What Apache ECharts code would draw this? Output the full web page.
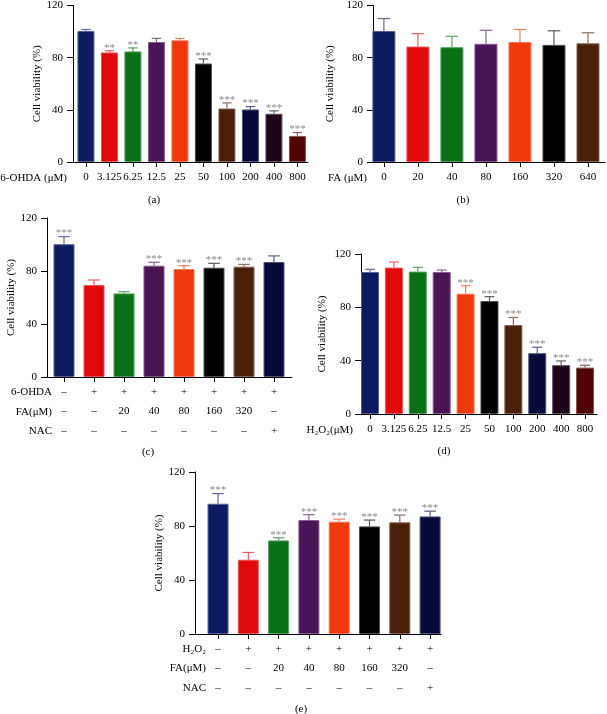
<!DOCTYPE html>
<html><head><meta charset="utf-8">
<script src="https://cdn.jsdelivr.net/npm/echarts@6/dist/echarts.min.js"></script>
<style>html,body{margin:0;padding:0;background:#fff}#c{width:607px;height:714px}</style>
</head><body><div id="c"></div>
<script>
const FONT = '"Liberation Serif","Times New Roman",serif';
const navy='#0e1a5f', red='#e0090b', green='#0a7016', purple='#4a1457', orange='#ee3a0b',
      black='#000000', brown='#4b200b', dnavy='#070a3b', plum='#1f0519', dred='#4f0506';

// (a) 6-OHDA dose
const aLabels = ['0','3.125','6.25','12.5','25','50','100','200','400','800'];
const aValues = [100.4,84,84.8,92,93.3,75.5,41,40.3,37,20];
const aErrors = [1.2,1.3,2.7,2.8,1.5,3.5,4.3,2.2,2.2,2.6];
const aSig = ['','**','**','','','***','***','***','***','***'];
const aColors = [navy,red,green,purple,orange,black,brown,dnavy,plum,dred];

// (b) FA dose
const bLabels = ['0','20','40','80','160','320','640'];
const bValues = [100.4,88.5,88,90.6,92,89.8,91];
const bErrors = [9.6,9.9,8.4,10.4,9.6,10.8,8.1];
const bSig = ['','','','','','',''];
const bColors = [navy,red,green,purple,orange,black,brown];

// (c) 6-OHDA + FA / NAC
const cOhda = ['–','+','+','+','+','+','+','+'];
const cFa   = ['–','–','20','40','80','160','320','–'];
const cNac  = ['–','–','–','–','–','–','–','+'];
const cValues = [100.2,69.4,63.1,84,81.5,82.5,83.3,86.8];
const cErrors = [5.8,3.8,1.3,2.6,2.5,3.3,1.7,4.6];
const cSig = ['***','','','***','***','***','***',''];
const cColors = [navy,red,green,purple,orange,black,brown,dnavy];

// (d) H2O2 dose
const dLabels = ['0','3.125','6.25','12.5','25','50','100','200','400','800'];
const dValues = [106.5,109.8,106.8,106.5,90.2,84.7,66.7,45.6,36.6,34.8];
const dErrors = [2,4.2,3.2,1.5,6,3.3,5.7,4.5,3.2,1.8];
const dSig = ['','','','','***','***','***','***','***','***'];
const dColors = [navy,red,green,purple,orange,black,brown,dnavy,plum,dred];

// (e) H2O2 + FA / NAC
const eH2o2 = ['–','+','+','+','+','+','+','+'];
const eFa   = ['–','–','20','40','80','160','320','–'];
const eNac  = ['–','–','–','–','–','–','–','+'];
const eValues = [96.5,55,69.3,84.4,83.2,79.7,82.7,87.1];
const eErrors = [7.5,5.4,2,4,1.9,4.7,5.4,3.9];
const eSig = ['***','','***','***','***','***','***','***'];
const eColors = [navy,red,green,purple,orange,black,brown,dnavy];

function join3(a,b,c){ return a.map((v,i)=>v+'\n'+b[i]+'\n'+c[i]); }

const panels = [
  {labels:aLabels, values:aValues, errors:aErrors, sig:aSig, colors:aColors,
   grid:{left:73,top:3,width:235,height:159}, xmin:-0.55, xmax:9.45, barW:17, nameGap:30, lh:13, margin:9},
  {labels:bLabels, values:bValues, errors:bErrors, sig:bSig, colors:bColors,
   grid:{left:373,top:3,width:232,height:159}, xmin:-0.32, xmax:6.5, barW:23, nameGap:37, lh:13, margin:9},
  {labels:join3(cOhda,cFa,cNac), values:cValues, errors:cErrors, sig:cSig, colors:cColors,
   grid:{left:47,top:218,width:245,height:159}, xmin:-0.567, xmax:7.6, barW:21, nameGap:30, lh:19.5, margin:5},
  {labels:dLabels, values:dValues, errors:dErrors, sig:dSig, colors:dColors,
   grid:{left:361,top:254,width:236,height:160}, xmin:-0.377, xmax:9.5, barW:18, nameGap:33, lh:13, margin:9},
  {labels:join3(eH2o2,eFa,eNac), values:eValues, errors:eErrors, sig:eSig, colors:eColors,
   grid:{left:195,top:472,width:246,height:162}, xmin:-0.76, xmax:7.36, barW:21, nameGap:27, lh:19.5, margin:5}
];

function errRender(p){
  return function(params, api){
    const i = api.value(0), v = api.value(1), e = api.value(2);
    const p0 = api.coord([i, v]), p1 = api.coord([i, v+e]);
    const col = echarts.color.lift(p.colors[params.dataIndex], 0.35);
    const cap = p.barW*0.55;
    const ch = [
      {type:'line', shape:{x1:p0[0],y1:p0[1],x2:p1[0],y2:p1[1]}, style:{stroke:col,lineWidth:1.2}},
      {type:'line', shape:{x1:p1[0]-cap/2,y1:p1[1],x2:p1[0]+cap/2,y2:p1[1]}, style:{stroke:col,lineWidth:1.2}}
    ];
    const s = p.sig[params.dataIndex];
    if (s) ch.push({type:'text', x:p1[0], y:p1[1]-3,
      style:{text:s, fill:'#8a8a8a', font:'11px '+FONT, align:'center', verticalAlign:'middle', textAlign:'center', textVerticalAlign:'middle'}});
    return {type:'group', children:ch};
  };
}

const grid=[], xAxis=[], yAxis=[], series=[];
panels.forEach((p,k)=>{
  grid.push(p.grid);
  const idx = p.values.map((_,i)=>i);
  xAxis.push({type:'value', gridIndex:k, min:p.xmin, max:p.xmax,
    axisLine:{show:true, onZero:false, lineStyle:{color:'#000', width:1}},
    axisTick:{show:true, length:5, lineStyle:{color:'#000'}, customValues:idx},
    axisLabel:{customValues:idx, formatter:v=>p.labels[Math.round(v)], color:'#000',
      fontFamily:FONT, fontSize:11, lineHeight:p.lh, margin:p.margin, verticalAlign:'top'},
    splitLine:{show:false}});
  yAxis.push({type:'value', gridIndex:k, min:0, max:120, interval:40,
    name:'Cell viability (%)', nameLocation:'middle', nameGap:p.nameGap,
    nameTextStyle:{fontFamily:FONT, fontSize:11, color:'#000'},
    axisLine:{show:true, onZero:false, lineStyle:{color:'#000', width:1}},
    axisTick:{show:true, length:6, lineStyle:{color:'#000'}},
    axisLabel:{color:'#000', fontFamily:FONT, fontSize:11, margin:10},
    splitLine:{show:false}});
  series.push({type:'bar', xAxisIndex:k, yAxisIndex:k, barWidth:p.barW,
    data:p.values.map((v,i)=>({value:[i,v], itemStyle:{color:p.colors[i],
      borderColor:echarts.color.lift(p.colors[i],0.3), borderWidth:1}})),
    silent:true, animation:false});
  series.push({type:'custom', xAxisIndex:k, yAxisIndex:k, renderItem:errRender(p),
    data:p.values.map((v,i)=>[i,v,p.errors[i]]), encode:{x:0,y:1}, z:5, silent:true, animation:false});
});

function txt(x,y,t,align){
  return {type:'text', x:x, y:y, style:{text:t, font:'11px '+FONT, fill:'#000',
    align:align||'right', verticalAlign:'middle', textAlign:align||'right', textVerticalAlign:'middle'}};
}
const graphic = [
  txt(67,178,'6-OHDA (μM)'),
  txt(367,178,'FA (μM)'),
  txt(52,392,'6-OHDA'), txt(52,412,'FA(μM)'), txt(52,431,'NAC'),
  txt(353,430,'H₂O₂(μM)'),
  txt(206,649,'H₂O₂'), txt(206,668,'FA(μM)'), txt(206,688,'NAC'),
  txt(154,200,'(a)','center'), txt(463,200,'(b)','center'),
  txt(148,452,'(c)','center'), txt(444,451,'(d)','center'), txt(301,709,'(e)','center')
];

const chart = echarts.init(document.getElementById('c'), null, {renderer:'canvas'});
chart.setOption({animation:false, backgroundColor:'#fff', grid, xAxis, yAxis, series, graphic});
</script></body></html>
